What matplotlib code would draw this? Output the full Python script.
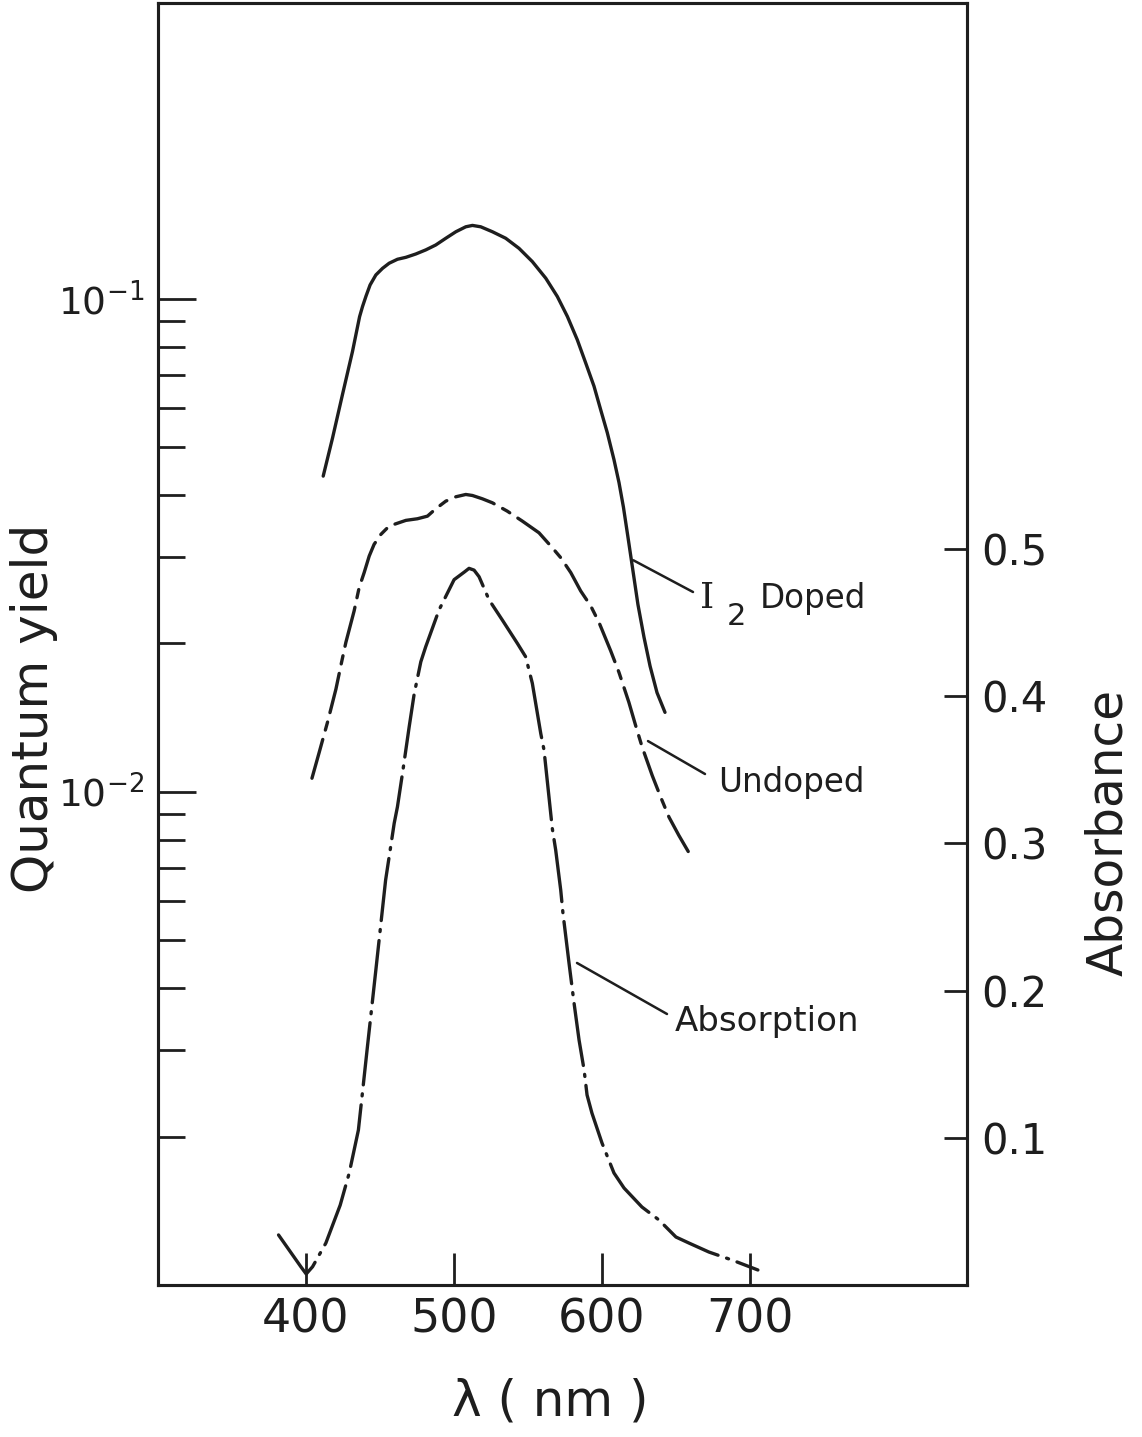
import matplotlib
matplotlib.use("Agg")
import matplotlib.pyplot as plt
from matplotlib.ticker import NullFormatter

plt.rcParams['font.family'] = ['DejaVu Sans']
plt.rcParams['mathtext.fontset'] = 'dejavusans'
plt.rcParams['lines.scale_dashes'] = False

# ---- data -------------------------------------------------------------
# I2-doped film: quantum yield vs wavelength (nm)
wl_doped = [411.7, 418.0, 424.7, 431.5, 436.3, 438.3, 440.7, 443.4, 447.3, 451.8,
            456.3, 461.9, 467.6, 474.3, 481.1, 487.8, 494.6, 501.4, 508.1, 512.6,
            518.2, 526.1, 535.1, 544.1, 553.1, 562.2, 570.0, 576.8, 583.5, 589.2,
            594.8, 599.3, 603.8, 608.3, 611.7, 614.7, 617.8, 621.2, 624.5, 628.6,
            632.7, 637.4, 642.8]
qy_doped = [0.0437, 0.0522, 0.0639, 0.0782, 0.0920, 0.0965, 0.1014, 0.1067,
            0.1118, 0.1153, 0.1181, 0.1203, 0.1214, 0.1233, 0.1257, 0.1286,
            0.1327, 0.1368, 0.1400, 0.1409, 0.1400, 0.1368, 0.1327, 0.1266,
            0.1190, 0.1101, 0.1011, 0.0921, 0.0826, 0.0741, 0.0665, 0.0596,
            0.0535, 0.0472, 0.0424, 0.0378, 0.0328, 0.0280, 0.0240, 0.0206,
            0.0180, 0.0159, 0.0145]

# Undoped film: quantum yield vs wavelength (nm)
wl_undoped = [404.1, 409.0, 414.6, 420.3, 423.6, 427.0, 432.6, 436.0, 439.4, 442.8,
              446.1, 450.7, 456.3, 467.6, 475.4, 482.2, 487.8, 494.6, 501.4, 508.1,
              512.6, 519.3, 526.1, 536.2, 546.4, 557.6, 566.6, 572.3, 579.1, 585.8,
              592.6, 598.2, 606.1, 611.7, 618.4, 623.0, 627.4, 634.2, 639.9, 645.5,
              652.2, 660.1]
qy_undoped = [0.01066, 0.01203, 0.01384, 0.01616, 0.01802, 0.02009, 0.02328,
              0.02596, 0.02785, 0.03008, 0.03177, 0.03329, 0.03461, 0.03554,
              0.03581, 0.03625, 0.03752, 0.03888, 0.03968, 0.04011, 0.03992,
              0.03931, 0.03858, 0.03710, 0.03541, 0.03354, 0.03128, 0.02986,
              0.02785, 0.02556, 0.02383, 0.02206, 0.01932, 0.01747, 0.01519,
              0.01362, 0.01232, 0.01079, 0.00976, 0.00889, 0.00816, 0.00743]

# Absorption spectrum: absorbance vs wavelength (nm)
wl_abs = [381.5, 396.6, 400.2, 404.5, 413.5, 423.2, 429.3, 435.5, 441.6, 447.3,
          453.9, 456.3, 459.7, 461.9, 465.3, 469.8, 473.2, 477.7, 481.0, 490.0,
          500.2, 507.4, 510.3, 513.7, 517.1, 523.9, 532.8, 543.0, 548.6, 553.1,
          558.8, 561.0, 566.6, 568.9, 572.3, 573.8, 577.9, 581.3, 584.7, 588.1,
          590.1, 593.4, 600.2, 608.3, 615.1, 627.2, 638.7, 650.2, 659.0, 672.5,
          688.0, 705.6]
absorbance = [0.0340, 0.0124, 0.0075, 0.0124, 0.0285, 0.0543, 0.0761, 0.1053,
              0.1619, 0.2140, 0.2751, 0.2910, 0.3137, 0.3249, 0.3476, 0.3790,
              0.4015, 0.4234, 0.4336, 0.4586, 0.4792, 0.4846, 0.4869, 0.4857,
              0.4812, 0.4654, 0.4518, 0.4359, 0.4268, 0.4088, 0.3747, 0.3635,
              0.3102, 0.2955, 0.2683, 0.2527, 0.2188, 0.1916, 0.1664, 0.1461,
              0.1291, 0.1168, 0.0965, 0.0761, 0.0659, 0.0530, 0.0442, 0.0326,
              0.0285, 0.0224, 0.0170, 0.0102]

x_ticks = [400, 500, 600, 700]
x_ticklabels = ['400', '500', '600', '700']
qy_major = [1e-2, 1e-1]
qy_major_labels = [r'$10^{-2}$', r'$10^{-1}$']
qy_minor = [2e-3, 3e-3, 4e-3, 5e-3, 6e-3, 7e-3, 8e-3, 9e-3,
            2e-2, 3e-2, 4e-2, 5e-2, 6e-2, 7e-2, 8e-2, 9e-2]
abs_ticks = [0.1, 0.2, 0.3, 0.4, 0.5]
abs_ticklabels = ['0.1', '0.2', '0.3', '0.4', '0.5']

# ---- figure -----------------------------------------------------------
W, H = 1142, 1437
ink = '#1e1e1e'
fig = plt.figure(figsize=(W / 100, H / 100), dpi=100)
ax = fig.add_axes([158 / W, 1 - 1285 / H, (967 - 158) / W, (1285 - 3) / H])
ax2 = ax.twinx()

ax.set_xlim(300, 847)
ax.set_yscale('log')
ax.set_ylim(1e-3, 10 ** -0.40)
ax2.set_ylim(0, 0.871)

lw = 2.4
ax.plot(wl_doped, qy_doped, color=ink, lw=lw, solid_capstyle='round',
        solid_joinstyle='round')
ax.plot(wl_undoped, qy_undoped, color=ink, lw=lw,
        linestyle=(0, (29, 7, 6, 7)), dash_capstyle='round',
        dash_joinstyle='round')
ax2.plot(wl_abs, absorbance, color=ink, lw=lw,
         linestyle=(0, (45, 6.5, 1.5, 6.5)), dash_capstyle='round',
         dash_joinstyle='round')

# ticks
ax.set_xticks(x_ticks)
ax.set_xticklabels(x_ticklabels)
ax.tick_params(axis='x', direction='in', length=23, width=2, top=False,
               pad=9, labelsize=33, colors=ink)
ax.set_yticks(qy_major)
ax.set_yticklabels(qy_major_labels)
ax.set_yticks(qy_minor, minor=True)
ax.yaxis.set_minor_formatter(NullFormatter())
ax.tick_params(axis='y', which='major', direction='in', length=27, width=2,
               pad=10, labelsize=27, colors=ink)
ax.tick_params(axis='y', which='minor', direction='in', length=19.5, width=2,
               colors=ink)

ax2.set_yticks(abs_ticks)
ax2.set_yticklabels(abs_ticklabels)
ax2.tick_params(axis='y', direction='in', length=16.5, width=2, pad=10,
                labelsize=30, colors=ink)

for a in (ax, ax2):
    for s in a.spines.values():
        s.set_linewidth(2.2)
        s.set_color(ink)

# axis titles
fig.text(34 / W, 1 - 708 / H, 'Quantum yield', rotation=90, ha='center',
         va='center', fontsize=36, color=ink)
fig.text(1108 / W, 1 - 832 / H, 'Absorbance', rotation=90, ha='center',
         va='center', fontsize=35, color=ink)
fig.text(550 / W, 1 - 1402 / H, 'λ ( nm )', ha='center', va='center',
         fontsize=36, color=ink)

# curve labels with leader lines
lead = dict(arrowstyle='-', lw=1.8, color=ink, shrinkA=0, shrinkB=0)
ax.annotate('', xy=(621.4, 0.0295), xycoords='data',
            xytext=(693 / W, 1 - 592 / H), textcoords='figure fraction',
            arrowprops=lead)
fig.text(700 / W, 1 - 608 / H, 'I', ha='left', va='baseline', fontsize=26,
         color=ink, family='DejaVu Serif')
fig.text(727 / W, 1 - 625 / H, '2', ha='left', va='baseline', fontsize=22,
         color=ink)
fig.text(760 / W, 1 - 608 / H, 'Doped', ha='left', va='baseline',
         fontsize=23.5, color=ink)

ax.annotate('', xy=(631.3, 0.01268), xycoords='data',
            xytext=(705 / W, 1 - 774 / H), textcoords='figure fraction',
            arrowprops=lead)
fig.text(718 / W, 1 - 792 / H, 'Undoped', ha='left', va='baseline',
         fontsize=23.5, color=ink)

ax2.annotate('', xy=(583.3, 0.2188), xycoords='data',
             xytext=(667 / W, 1 - 1014 / H), textcoords='figure fraction',
             arrowprops=lead)
fig.text(675 / W, 1 - 1031 / H, 'Absorption', ha='left', va='baseline',
         fontsize=24.5, color=ink)

fig.savefig('out.png', dpi=100)
